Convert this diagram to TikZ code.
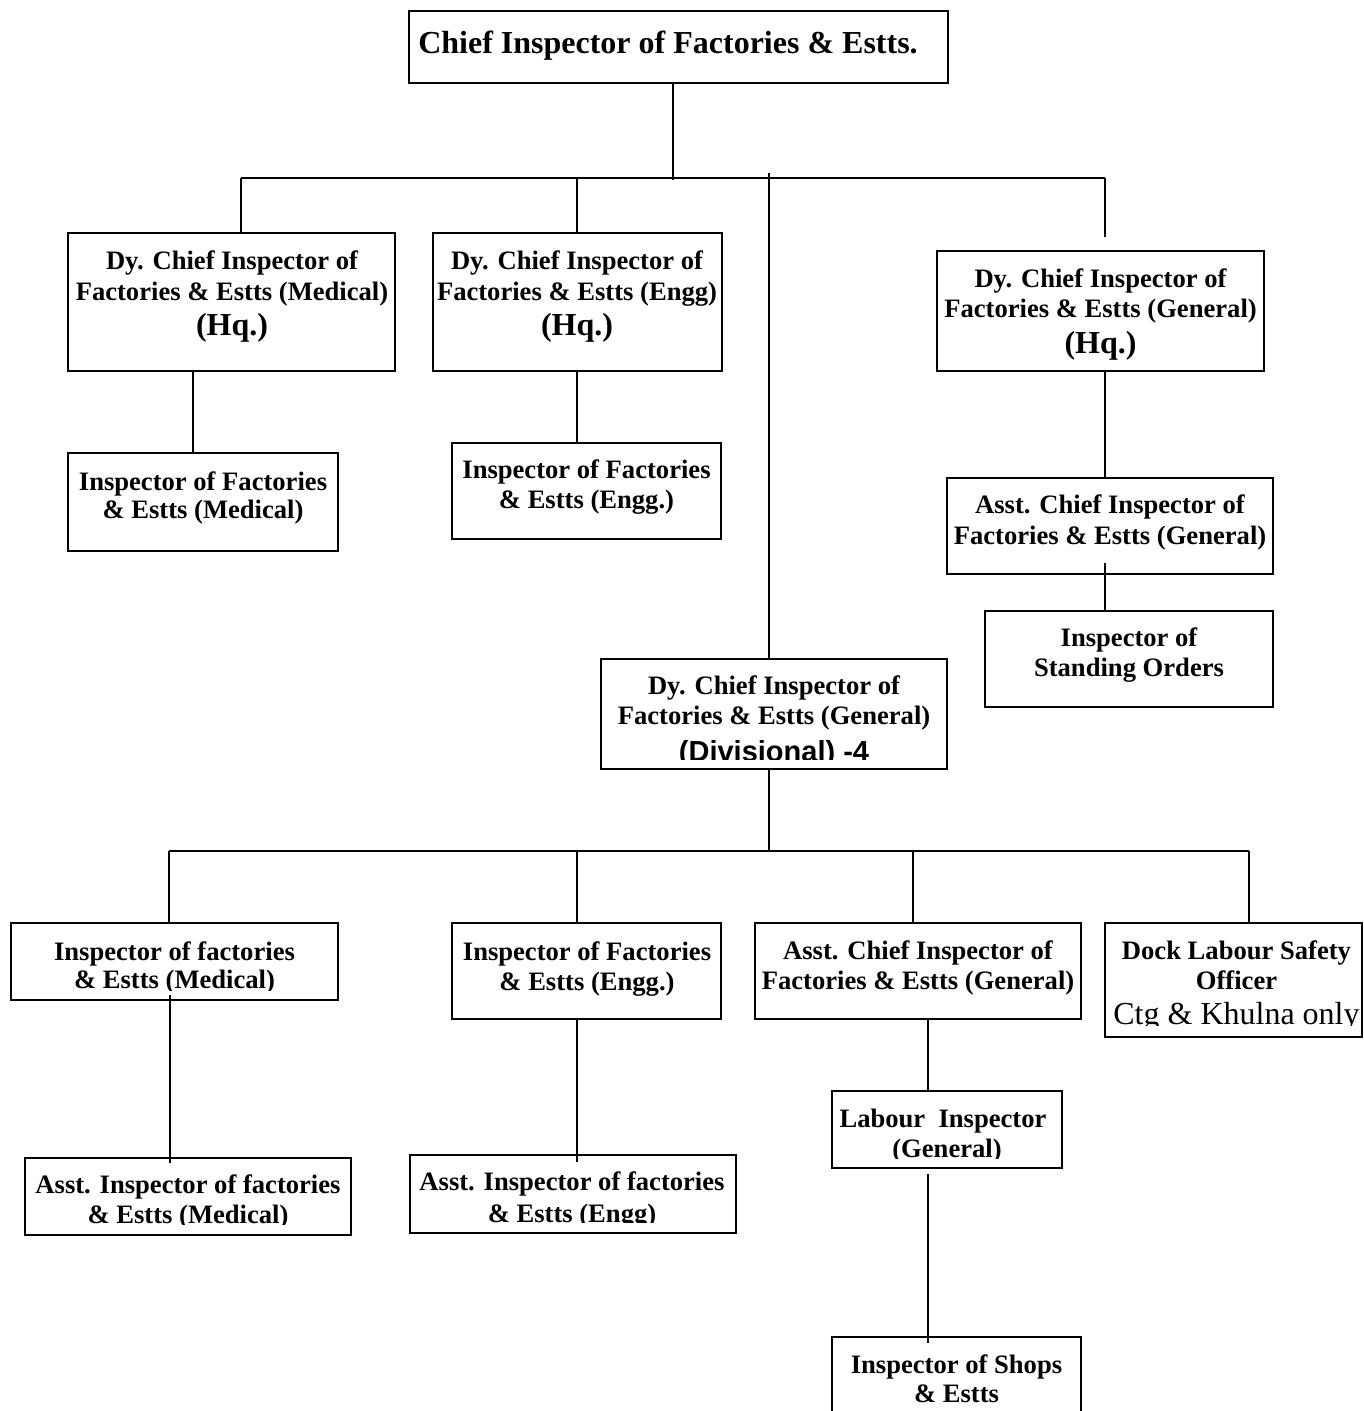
\documentclass[tikz,border=0pt]{standalone}
\usepackage{fontspec}
\setmainfont{Liberation Serif}
\newfontfamily\arialf{Liberation Sans}
\tikzset{
  orgbox/.style={draw, line width=1.5pt, inner sep=0pt, outer sep=0pt},
  conn/.style={line width=1.3pt},
  bt/.style={font=\bfseries\fontsize{26.6}{30}\selectfont, anchor=base, inner sep=0pt},
  hqt/.style={font=\bfseries\fontsize{32}{36}\selectfont, anchor=base, inner sep=0pt},
  titlet/.style={font=\bfseries\fontsize{32}{36}\selectfont, anchor=base, inner sep=0pt},
  divt/.style={font=\arialf\bfseries\fontsize{29}{33}\selectfont, anchor=base, inner sep=0pt},
  regt/.style={font=\fontsize{32}{36}\selectfont, anchor=base, inner sep=0pt}
}
\begin{document}
\begin{tikzpicture}[x=1pt,y=-1pt]
\clip (0,0) rectangle (1364,1411);
\fill[white] (0,0) rectangle (1364,1411);

% ---------- boxes ----------
\node[orgbox, minimum width=539pt, minimum height=72pt] (chief) at (678.5,47) {};
\node[orgbox, minimum width=327pt, minimum height=138pt] (medhq) at (231.5,302) {};
\node[orgbox, minimum width=289pt, minimum height=138pt] (engghq) at (577.5,302) {};
\node[orgbox, minimum width=327pt, minimum height=120pt] (genhq) at (1100.5,311) {};
\node[orgbox, minimum width=270pt, minimum height=98pt] (inspmed) at (203,502) {};
\node[orgbox, minimum width=269pt, minimum height=96pt] (inspengg) at (586.5,491) {};
\node[orgbox, minimum width=326pt, minimum height=96pt] (asstgen) at (1110,526) {};
\node[orgbox, minimum width=288pt, minimum height=96pt] (standing) at (1129,659) {};
\node[orgbox, minimum width=346pt, minimum height=110pt] (div) at (774,714) {};
\node[orgbox, minimum width=327pt, minimum height=77pt] (rmed) at (174.5,961.5) {};
\node[orgbox, minimum width=269pt, minimum height=96pt] (rengg) at (586.5,971) {};
\node[orgbox, minimum width=326pt, minimum height=96pt] (rgen) at (918,971) {};
\node[orgbox, minimum width=257pt, minimum height=114pt] (dock) at (1233.5,980) {};
\node[orgbox, minimum width=230pt, minimum height=77pt] (labour) at (947,1129.5) {};
\node[orgbox, minimum width=326pt, minimum height=77pt] (asstmed) at (188,1196.5) {};
\node[orgbox, minimum width=326pt, minimum height=78pt] (asstengg) at (573,1194) {};
\node[orgbox, minimum width=249pt, minimum height=93pt] (shops) at (956.5,1383.5) {};

% ---------- texts ----------
\node[titlet] (tchief) at (668,53) {Chief Inspector of Factories \& Estts.};

\node[bt] (tmh1) at (232,269) {Dy. Chief Inspector of};
\node[bt] (tmh2) at (232,300) {Factories \& Estts (Medical)};
\node[hqt] (tmh3) at (232,335) {(Hq.)};

\node[bt] (teh1) at (577,269) {Dy. Chief Inspector of};
\node[bt] (teh2) at (577,300) {Factories \& Estts (Engg)};
\node[hqt] (teh3) at (577,335) {(Hq.)};

\node[bt] (tgh1) at (1100.5,287) {Dy. Chief Inspector of};
\node[bt] (tgh2) at (1100.5,317) {Factories \& Estts (General)};
\node[hqt] (tgh3) at (1100.5,353) {(Hq.)};

\node[bt] (tim1) at (203,490) {Inspector of Factories};
\node[bt] (tim2) at (203,518) {\& Estts (Medical)};

\node[bt] (tie1) at (586.5,478) {Inspector of Factories};
\node[bt] (tie2) at (586.5,508) {\& Estts (Engg.)};

\node[bt] (tag1) at (1110,513) {Asst. Chief Inspector of};
\node[bt] (tag2) at (1110,544) {Factories \& Estts (General)};

\node[bt] (tst1) at (1129,646) {Inspector of};
\node[bt] (tst2) at (1129,676) {Standing Orders};

\node[bt] (tdv1) at (774,694) {Dy. Chief Inspector of};
\node[bt] (tdv2) at (774,724) {Factories \& Estts (General)};
\begin{scope}
  \clip (602,730) rectangle (946,759.5);
  \node[divt] (tdv3) at (774,761) {(Divisional) -4};
\end{scope}

\node[bt] (trm1) at (174.5,960) {Inspector of factories};
\begin{scope}
  \clip (12,965) rectangle (337,990.5);
  \node[bt] (trm2) at (174.5,988) {\& Estts (Medical)};
\end{scope}

\node[bt] (tre1) at (587,960) {Inspector of Factories};
\node[bt] (tre2) at (587,990) {\& Estts (Engg.)};

\node[bt] (trg1) at (918,959) {Asst. Chief Inspector of};
\node[bt] (trg2) at (918,989) {Factories \& Estts (General)};

\node[bt] (tdk1) at (1236.5,959) {Dock Labour Safety};
\node[bt] (tdk2) at (1236.5,989) {Officer};
\begin{scope}
  \clip (1106,995) rectangle (1364,1025.5);
  \node[regt] (tdk3) at (1236.5,1024) {Ctg \& Khulna only};
\end{scope}

\node[bt] (tlb1) at (943,1127) {Labour\ \ Inspector};
\begin{scope}
  \clip (833,1133) rectangle (1061,1158);
  \node[bt] (tlb2) at (947,1157) {(General)};
\end{scope}

\node[bt] (tam1) at (188,1193) {Asst. Inspector of factories};
\begin{scope}
  \clip (26,1198) rectangle (350,1224);
  \node[bt] (tam2) at (188,1223) {\& Estts (Medical)};
\end{scope}

\node[bt] (tae1) at (572,1190) {Asst. Inspector of factories};
\begin{scope}
  \clip (411,1196) rectangle (735,1222.5);
  \node[bt] (tae2) at (572,1222) {\& Estts (Engg)};
\end{scope}

\node[bt] (tsh1) at (956.5,1373) {Inspector of Shops};
\node[bt] (tsh2) at (956.5,1402) {\& Estts};

% ---------- junction coordinates ----------
\coordinate (busAC) at (673,180);
\coordinate (busAL) at (241,178);
\coordinate (busAR) at (1105,178);
\coordinate (busAE) at (577,178);
\coordinate (genstub) at (1105,237);
\coordinate (divtop) at (769,173);
\coordinate (medx) at (193,371);
\coordinate (gs) at (1105,563);
\coordinate (busBC) at (769,851);
\coordinate (busBa) at (169,851);
\coordinate (busBb) at (577,851);
\coordinate (busBc) at (913,851);
\coordinate (busBd) at (1249,851);
\coordinate (md1) at (170,995);
\coordinate (md2) at (170,1163);
\coordinate (ed2) at (577,1162);
\coordinate (glx) at (928,1019);
\coordinate (ls1) at (928,1174);
\coordinate (ls2) at (928,1343);

% ---------- connectors ----------
\draw[conn] (chief.south -| busAC) -- (busAC);
\draw[conn] (busAL) -- (busAR);
\draw[conn] (busAL) -- (busAL |- medhq.north);
\draw[conn] (busAE) -- (busAE |- engghq.north);
\draw[conn] (busAR) -- (genstub);
\draw[conn] (divtop) -- (divtop |- div.north);
\draw[conn] (medhq.south -| medx) -- (inspmed.north -| medx);
\draw[conn] (engghq.south -| busAE) -- (inspengg.north -| busAE);
\draw[conn] (genhq.south -| busAR) -- (asstgen.north -| busAR);
\draw[conn] (gs) -- (standing.north -| gs);
\draw[conn] (div.south -| busBC) -- (busBC);
\draw[conn] (busBa) -- (busBd);
\draw[conn] (busBa) -- (busBa |- rmed.north);
\draw[conn] (busBb) -- (busBb |- rengg.north);
\draw[conn] (busBc) -- (busBc |- rgen.north);
\draw[conn] (busBd) -- (busBd |- dock.north);
\draw[conn] (md1) -- (md2);
\draw[conn] (rengg.south -| busBb) -- (ed2);
\draw[conn] (rgen.south -| glx) -- (labour.north -| glx);
\draw[conn] (ls1) -- (ls2);
\end{tikzpicture}
\end{document}
